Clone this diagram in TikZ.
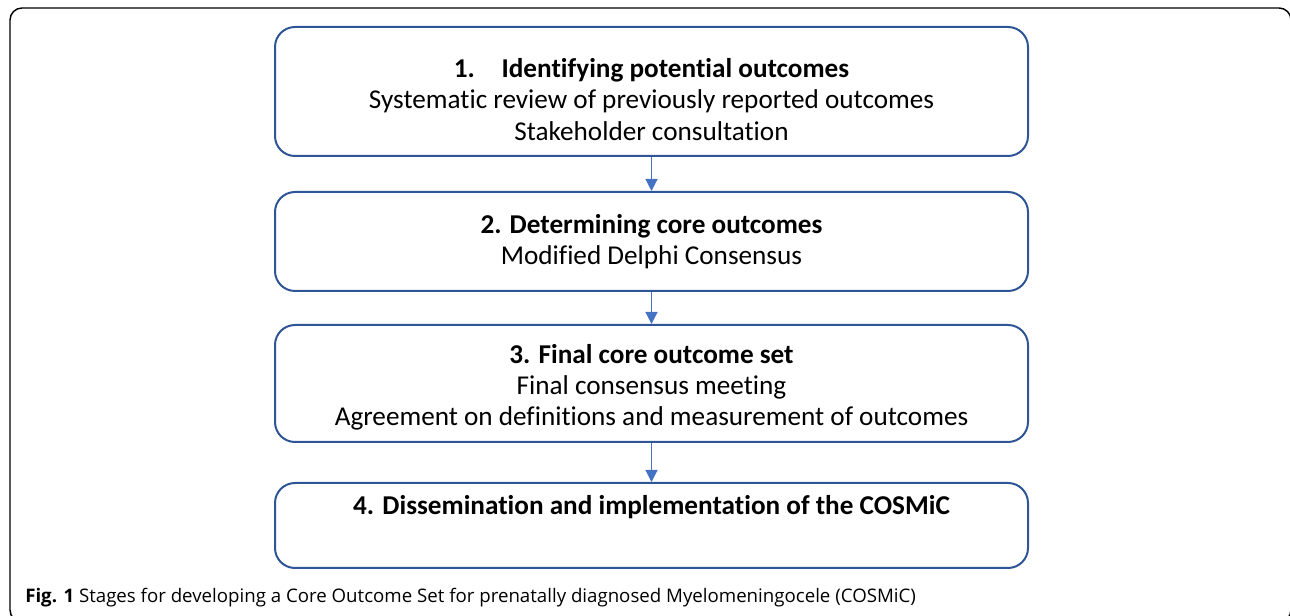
\documentclass[tikz,border=0pt]{standalone}
\usepackage{fontspec}
\setmainfont{Carlito}[Ligatures=NoCommon]
\newfontfamily\capfont{Open Sans}
\usetikzlibrary{arrows.meta}
\definecolor{boxblue}{HTML}{2F5597}
\definecolor{arrowblue}{HTML}{4472C4}

\begin{document}
\begin{tikzpicture}[x=0.75pt,y=-0.75pt,
    stage/.style={draw=boxblue, line width=1.5pt, rounded corners=15pt,
        minimum width=564.75pt, align=center, inner sep=0pt,
        font=\fontsize{20.4}{23.5}\selectfont},
    flow/.style={draw=arrowblue, line width=0.9pt,
        -{Triangle[width=9pt,length=9pt]}}]
    \useasboundingbox (0,0) rectangle (1290,616);
    \draw[line width=1.1pt, rounded corners=9pt] (10,8) rectangle (1291,622);

    \node[stage, minimum height=96.75pt] (s1) at (651.5,91.5)
        {\rule{0pt}{26pt}\textbf{1.\hspace{20pt}Identifying potential outcomes}\\
         Systematic review of previously reported outcomes\\
         Stakeholder consultation};
    \node[stage, minimum height=74.25pt] (s2) at (651.5,241.5)
        {\textbf{2. Determining core outcomes}\\
         Modified Delphi Consensus};
    \node[stage, minimum height=87.75pt] (s3) at (651.5,383.5)
        {\rule{0pt}{20pt}\textbf{3. Final core outcome set}\\
         Final consensus meeting\\
         Agreement on definitions and measurement of outcomes};
    \node[stage, minimum height=63.75pt] (s4) at (651.5,525.5)
        {\textbf{4. Dissemination and implementation of the COSMiC}\\
         \strut};

    \path (s1) edge[flow] (s2);
    \path (s2) edge[flow] (s3);
    \path (s3) edge[flow] (s4);

    \node[anchor=base west, inner sep=0pt, font=\capfont\fontsize{14}{16}\selectfont]
        (cap) at (25,603) {\textbf{Fig. 1} Stages for developing a Core Outcome Set for prenatally diagnosed Myelomeningocele (COSMiC)};
\end{tikzpicture}
\end{document}
